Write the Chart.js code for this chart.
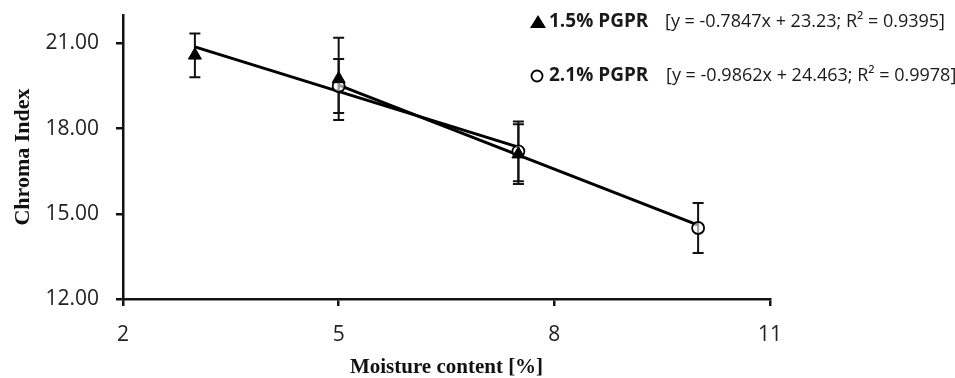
<!DOCTYPE html>
<html>
<head>
<meta charset="utf-8">
<script src="https://cdn.jsdelivr.net/npm/chart.js@4.4.1/dist/chart.umd.min.js"></script>
<style>
  html, body { margin: 0; padding: 0; background: #fff; }
  #wrap { width: 955px; height: 378px; }
</style>
</head>
<body>
<div id="wrap"><canvas id="chromaChart" width="955" height="378"></canvas></div>
<script>
// Số liệu
const xTicks = [2, 5, 8, 11];
const yTicks = [12, 15, 18, 21];

// 1.5% PGPR (tam giác)
const moisture15 = [3, 5, 7.5];
const chroma15 = [20.58, 19.75, 17.1];
const err15 = [0.77, 1.45, 1.05];

// 2.1% PGPR (hình tròn)
const moisture21 = [5, 7.5, 10];
const chroma21 = [19.5, 17.2, 14.5];
const err21 = [0.95, 1.05, 0.88];

// Đường xu hướng (điểm đầu, điểm cuối)
const trend15X = [3, 7.5];
const trend15Y = [20.88, 17.35];
const trend21X = [5, 10];
const trend21Y = [19.53, 14.6];

const legendLabels = ['1.5% PGPR', '2.1% PGPR'];
const legendEquations = [
    '[y = -0.7847x + 23.23; R\u00B2 = 0.9395]',
    '[y = -0.9862x + 24.463; R\u00B2 = 0.9978]'
];

const toPoints = (xs, ys) => xs.map((x, i) => ({ x: x, y: ys[i] }));

// Vẽ thanh sai số
const errorBars = {
    id: 'errorBars',
    beforeDatasetsDraw(chart) {
        const ctx = chart.ctx;
        const ys = chart.scales.y;
        ctx.save();
        ctx.strokeStyle = '#111';
        ctx.lineWidth = 2;
        chart.data.datasets.forEach((ds, di) => {
            if (!ds.errors) return;
            const meta = chart.getDatasetMeta(di);
            meta.data.forEach((pt, i) => {
                const v = ds.data[i].y;
                const e = ds.errors[i];
                const top = ys.getPixelForValue(v + e);
                const bot = ys.getPixelForValue(v - e);
                ctx.beginPath();
                ctx.moveTo(pt.x, top); ctx.lineTo(pt.x, bot);
                ctx.moveTo(pt.x - 5.5, top); ctx.lineTo(pt.x + 5.5, top);
                ctx.moveTo(pt.x - 5.5, bot); ctx.lineTo(pt.x + 5.5, bot);
                ctx.stroke();
            });
        });
        ctx.restore();
    }
};

// Chú thích ở góc trên bên phải
const sideLegend = {
    id: 'sideLegend',
    afterDraw(chart) {
        const ctx = chart.ctx;
        ctx.save();
        const rows = [22, 76];
        // tam giác
        ctx.fillStyle = '#000';
        ctx.beginPath();
        ctx.moveTo(538, rows[0] - 7);
        ctx.lineTo(546, rows[0] + 6);
        ctx.lineTo(530, rows[0] + 6);
        ctx.closePath();
        ctx.fill();
        // hình tròn
        ctx.strokeStyle = '#000';
        ctx.lineWidth = 1.8;
        ctx.beginPath();
        ctx.arc(537, rows[1], 5.5, 0, Math.PI * 2);
        ctx.stroke();

        ctx.textBaseline = 'middle';
        ctx.fillStyle = '#1a1a1a';
        ctx.font = 'bold 19px "Open Sans"';
        ctx.fillText(legendLabels[0], 549, rows[0]);
        ctx.fillText(legendLabels[1], 549, rows[1]);
        ctx.font = '18px "Open Sans"';
        ctx.fillText(legendEquations[0], 665, rows[0]);
        ctx.fillText(legendEquations[1], 666, rows[1]);
        ctx.restore();
    }
};

const ctx = document.getElementById('chromaChart').getContext('2d');
const chromaChart = new Chart(ctx, {
    type: 'scatter',
    data: {
        datasets: [
            {
                label: '1.5% PGPR',
                data: toPoints(moisture15, chroma15),
                errors: err15,
                pointStyle: 'triangle',
                pointRadius: 7.5,
                backgroundColor: '#000',
                borderColor: '#000',
                borderWidth: 1,
                showLine: false
            },
            {
                label: '2.1% PGPR',
                data: toPoints(moisture21, chroma21),
                errors: err21,
                pointStyle: 'circle',
                pointRadius: 6,
                backgroundColor: 'rgba(255,255,255,0.6)',
                borderColor: '#000',
                borderWidth: 1.8,
                showLine: false
            },
            {
                label: 'trend 1.5',
                data: toPoints(trend15X, trend15Y),
                showLine: true,
                pointRadius: 0,
                borderColor: '#000',
                borderWidth: 3
            },
            {
                label: 'trend 2.1',
                data: toPoints(trend21X, trend21Y),
                showLine: true,
                pointRadius: 0,
                borderColor: '#000',
                borderWidth: 3
            }
        ]
    },
    options: {
        responsive: false,
        animation: false,
        layout: { padding: { left: 0, right: 185, top: 15, bottom: 0 } },
        plugins: {
            legend: { display: false },
            tooltip: { enabled: false }
        },
        scales: {
            x: {
                type: 'linear',
                min: 2,
                max: 11,
                afterBuildTicks: s => { s.ticks = xTicks.map(v => ({ value: v })); },
                afterFit: s => { s.height = 79; },
                border: { display: true, color: '#111', width: 2.5 },
                grid: { drawOnChartArea: false, drawTicks: true, tickLength: 7, color: '#111', lineWidth: 2.5 },
                ticks: {
                    color: '#222',
                    padding: 16,
                    font: { family: 'Open Sans', size: 21 }
                },
                title: {
                    display: true,
                    text: 'Moisture content [%]',
                    color: '#111',
                    padding: { top: 0, bottom: 0 },
                    font: { family: 'Liberation Serif', size: 21, weight: 'bold', lineHeight: 1 }
                }
            },
            y: {
                min: 12,
                max: 22,
                afterBuildTicks: s => { s.ticks = yTicks.map(v => ({ value: v })); },
                afterFit: s => { s.width = 123; s.paddingTop = 0; s.paddingBottom = 0; },
                border: { display: true, color: '#111', width: 2.5 },
                grid: { drawOnChartArea: false, drawTicks: true, tickLength: 7, color: '#111', lineWidth: 2.5 },
                ticks: {
                    color: '#222',
                    padding: 17,
                    font: { family: 'Open Sans', size: 21 },
                    callback: v => Number(v).toFixed(2)
                },
                title: {
                    display: true,
                    text: 'Chroma Index',
                    color: '#111',
                    padding: { top: 12, bottom: 0 },
                    font: { family: 'Liberation Serif', size: 22, weight: 'bold', lineHeight: 1 }
                }
            }
        }
    },
    plugins: [errorBars, sideLegend]
});
</script>
</body>
</html>
